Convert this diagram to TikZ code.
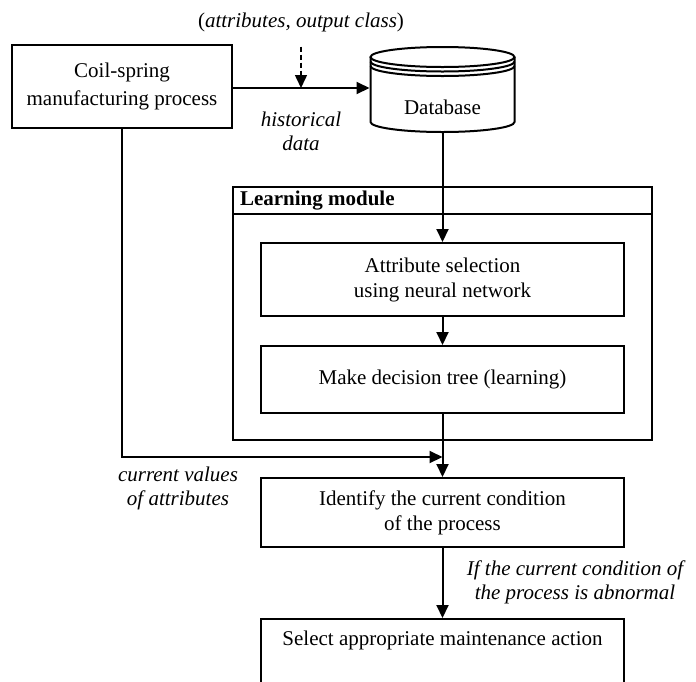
\documentclass[tikz,border=0pt]{standalone}
\usepackage{fontspec}
\setmainfont{Liberation Serif}
\usetikzlibrary{arrows.meta}
\begin{document}
\begin{tikzpicture}[x=1pt,y=-1pt,>={Triangle[length=13pt,width=12pt]},line width=2pt,
txt/.style={font=\fontsize{21pt}{25pt}\selectfont},
box/.style={draw,txt,minimum width=363pt,align=center,inner sep=0pt},
lbl/.style={align=center,inner sep=0pt,font=\fontsize{21pt}{24pt}\selectfont\itshape}]
\useasboundingbox(0,0)rectangle(696,681);
\clip(0,0)rectangle(696,681);
\node[box,minimum width=220pt,minimum height=83pt,font=\fontsize{21pt}{28pt}\selectfont](coil)at(122,86.5){Coil-spring\\manufacturing process};
\node[inner sep=0pt,minimum width=144pt,minimum height=85pt,label={[txt,yshift=-18pt]center:Database}](dbase)at(442.5,89.5){};
\draw(442.5,57)ellipse[x radius=72pt,y radius=10pt];
\draw(370.5,61.5)arc[start angle=180,end angle=360,x radius=72pt,y radius=10pt];
\draw(370.5,66)arc[start angle=180,end angle=360,x radius=72pt,y radius=10pt];
\draw(370.5,57)--(370.5,122)arc[start angle=180,end angle=360,x radius=72pt,y radius=10pt]--(514.5,57);
\node[draw,minimum width=419pt,minimum height=253pt,inner sep=0pt](lmod)at(442.5,313.5){};
\draw([yshift=-28pt]lmod.north west)--([yshift=-28pt]lmod.north east);
\node[anchor=west,inner sep=0pt,font={\fontsize{21pt}{25pt}\selectfont\bfseries}](lmtitle)at(239,201){Learning module};
\node[box,minimum height=73pt](attsel)at(442.5,279.5){Attribute selection\\using neural network};
\node[box,minimum height=67pt](dtree)at(442.5,379.5){Make decision tree (learning)};
\node[box,minimum height=69pt](ident)at(442.5,512.5){Identify the current condition\\of the process};
\node[box,anchor=north,text height=14pt,text depth=60pt,inner ysep=12pt](maint)at(442.5,618){Select appropriate maintenance action};
\node[txt,inner sep=0pt](attrlbl)at(301,22){(\textit{attributes, output class})};
\node[lbl](histlbl)at(301,131){historical\\data};
\node[lbl](curlbl)at(178,488){current values\\of attributes};
\node[lbl](condlbl)at(575,582){If the current condition of\\the process is abnormal};
\coordinate(hmid)at(301,88);
\coordinate(join)at(442.5,457);
\draw[->](coil.east|-hmid)--(dbase.west|-hmid);
\draw[->,dash pattern=on 5pt off 3pt,line width=1.5pt,shorten <=14pt](attrlbl)--(hmid);
\draw[->](dbase.south)--(attsel);
\draw[->](attsel)--(dtree);
\draw[->](dtree)--(ident);
\draw[->](coil.south)|-(join);
\draw[->](ident)--(maint);
\end{tikzpicture}
\end{document}
